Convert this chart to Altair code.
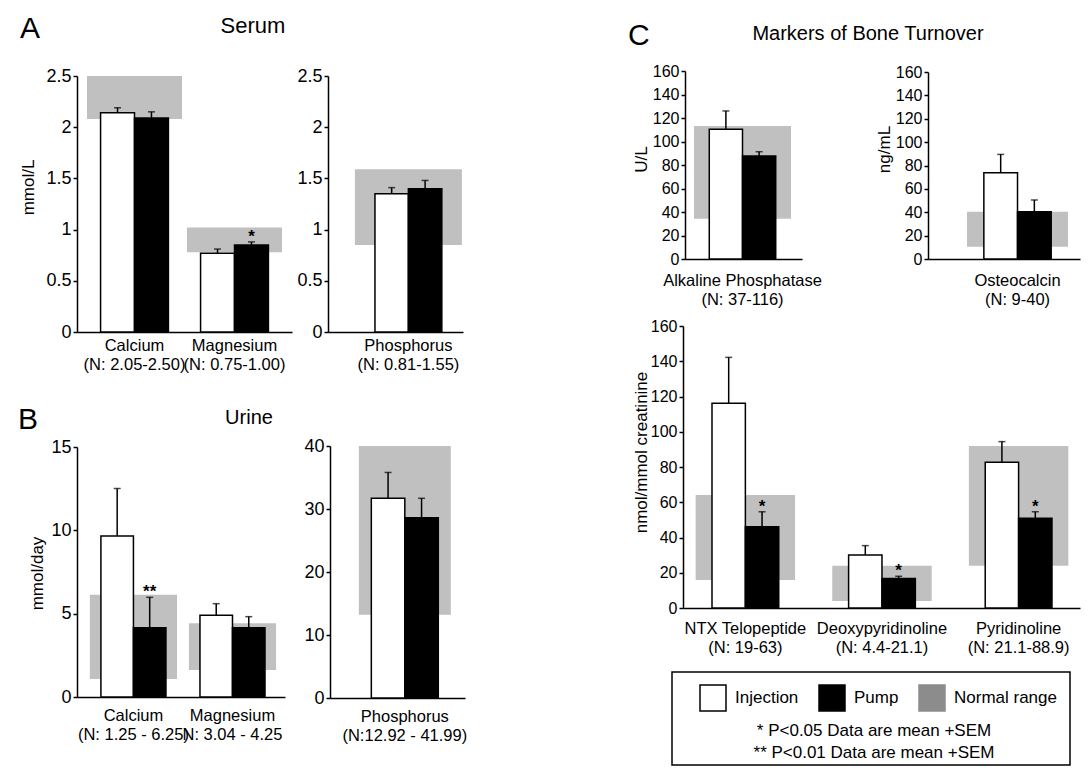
import altair as alt
import pandas as pd

FONT = "Liberation Sans"
W, H = 1073, 758
GROUPS = ["Injection", "Pump", "Normal range"]
FILLS = ["white", "black", "#8c8c8c"]
STROKES = ["black", "black", "#8c8c8c"]
BOX_GREY = "#c0c0c0"

# ---- Serum ----
SERUM_CATS = ["Calcium", "Magnesium", "Phosphorus"]
SERUM_RANGES = ["(N: 2.05-2.50)", "(N: 0.75-1.00)", "(N: 0.81-1.55)"]
SERUM_INJ = [2.14, 0.77, 1.35]
SERUM_INJ_SEM = [0.05, 0.04, 0.06]
SERUM_PUMP = [2.09, 0.85, 1.40]
SERUM_PUMP_SEM = [0.06, 0.03, 0.08]
SERUM_NORM_LO = [2.08, 0.78, 0.85]
SERUM_NORM_HI = [2.50, 1.02, 1.59]
SERUM_SIG = ["", "*", ""]

# ---- Urine ----
URINE_CATS = ["Calcium", "Magnesium", "Phosphorus"]
URINE_RANGES = ["(N: 1.25 - 6.25)", "N: 3.04 - 4.25", "(N:12.92 - 41.99)"]
URINE_INJ = [9.66, 4.90, 31.7]
URINE_INJ_SEM = [2.85, 0.70, 4.1]
URINE_PUMP = [4.16, 4.16, 28.6]
URINE_PUMP_SEM = [1.82, 0.66, 3.1]
URINE_NORM_LO = [1.08, 1.62, 13.2]
URINE_NORM_HI = [6.14, 4.42, 41.99]
URINE_SIG = ["**", "", ""]

# ---- Bone turnover markers ----
BONE_CATS = ["Alkaline Phosphatase", "Osteocalcin", "NTX Telopeptide",
             "Deoxypyridinoline", "Pyridinoline"]
BONE_RANGES = ["(N: 37-116)", "(N: 9-40)", "(N: 19-63)", "(N: 4.4-21.1)",
               "(N: 21.1-88.9)"]
BONE_INJ = [110.4, 73.8, 116.1, 30.1, 82.7]
BONE_INJ_SEM = [15.6, 15.7, 26.1, 5.3, 11.7]
BONE_PUMP = [87.7, 40.5, 46.1, 16.8, 50.9]
BONE_PUMP_SEM = [3.6, 10.0, 8.5, 1.2, 3.7]
BONE_NORM_LO = [34.3, 10.5, 15.9, 4.0, 24.0]
BONE_NORM_HI = [113.2, 40.5, 64.1, 24.0, 91.9]
BONE_SIG = ["", "", "*", "*", "*"]

NOTES = ["* P<0.05 Data are mean +SEM", "** P<0.01 Data are mean +SEM"]

SERUM = dict(cats=SERUM_CATS, ranges=SERUM_RANGES, inj=SERUM_INJ, inj_sem=SERUM_INJ_SEM,
             pump=SERUM_PUMP, pump_sem=SERUM_PUMP_SEM, lo=SERUM_NORM_LO,
             hi=SERUM_NORM_HI, sig=SERUM_SIG)
URINE = dict(cats=URINE_CATS, ranges=URINE_RANGES, inj=URINE_INJ, inj_sem=URINE_INJ_SEM,
             pump=URINE_PUMP, pump_sem=URINE_PUMP_SEM, lo=URINE_NORM_LO,
             hi=URINE_NORM_HI, sig=URINE_SIG)
BONE = dict(cats=BONE_CATS, ranges=BONE_RANGES, inj=BONE_INJ, inj_sem=BONE_INJ_SEM,
            pump=BONE_PUMP, pump_sem=BONE_PUMP_SEM, lo=BONE_NORM_LO,
            hi=BONE_NORM_HI, sig=BONE_SIG)

LEG = alt.Legend(title=None, orient="none", legendX=691, legendY=676,
                 direction="horizontal", symbolType="square", symbolSize=676,
                 symbolStrokeWidth=1.5, labelFontSize=17, labelFont=FONT,
                 labelColor="black", labelOffset=8, columnPadding=17, padding=0,
                 symbolOpacity=1)


def panel(sec, idxs, xr, yr, ymax, yvals, pi, po, align, opo, label_pad,
          tick_fs, ytitle=None, tx=None, ty=None):
    """xr=(left, right), yr=(bottom, top) in pixels of the shared canvas."""
    keys = [sec["cats"][i] + "|" + sec["ranges"][i] for i in idxs]
    rows = []
    for i, k in zip(idxs, keys):
        rows.append(dict(cat=k, group="Injection", value=sec["inj"][i],
                         sem=sec["inj_sem"][i], sig=""))
        rows.append(dict(cat=k, group="Pump", value=sec["pump"][i],
                         sem=sec["pump_sem"][i], sig=sec["sig"][i]))
    bars_df = pd.DataFrame(rows)
    box_df = pd.DataFrame(dict(cat=keys, lo=[sec["lo"][i] for i in idxs],
                               hi=[sec["hi"][i] for i in idxs]))

    xs = alt.Scale(domain=keys, range=list(xr), paddingInner=pi, paddingOuter=po,
                   align=align)
    xa = alt.Axis(title=None, ticks=False, labelAngle=0, labelFontSize=16.5,
                  labelExpr="split(datum.label, '|')", labelPadding=label_pad,
                  labelLineHeight=19, labelOverlap=False, labelLimit=0,
                  orient="bottom", offset=yr[0] - H, grid=False)
    x = alt.X("cat:N", scale=xs, axis=xa)
    xo = alt.XOffset("group:N", scale=alt.Scale(domain=["Injection", "Pump"],
                                                 paddingOuter=opo, paddingInner=0))
    ys = alt.Scale(domain=[0, ymax], range=list(yr), nice=False, clamp=True)
    ax_kw = dict(values=yvals, format="~f", tickSize=4, labelPadding=2,
                 labelFontSize=tick_fs, grid=False, orient="left", offset=-xr[0])
    if ytitle:
        ax_kw.update(title=ytitle, titleX=tx, titleY=ty, titleFontSize=17,
                     titleBaseline="alphabetic", titleAngle=-90, titleAlign="center",
                     titleFontWeight="normal")
    else:
        ax_kw.update(title=None)
    ya = alt.Axis(**ax_kw)

    box = alt.Chart(box_df).mark_bar(color=BOX_GREY).encode(
        x=x, y=alt.Y("lo:Q", scale=ys, axis=ya), y2="hi:Q")
    base = alt.Chart(bars_df).transform_calculate(top="datum.value + datum.sem")
    bars = base.mark_bar(strokeWidth=1.5).encode(
        x=x, xOffset=xo, y=alt.Y("value:Q", scale=ys, axis=ya),
        fill=alt.Fill("group:N", scale=alt.Scale(domain=GROUPS, range=FILLS), legend=LEG),
        stroke=alt.Stroke("group:N", scale=alt.Scale(domain=GROUPS, range=STROKES),
                          legend=LEG))
    err = base.mark_rule(color="black", strokeWidth=1.5).encode(
        x=x, xOffset=xo, y=alt.Y("value:Q", scale=ys, axis=ya), y2="top:Q")
    cap = base.mark_tick(color="black", thickness=1.5, size=7).encode(
        x=x, xOffset=xo, y=alt.Y("top:Q", scale=ys, axis=ya))
    stars = base.transform_filter("datum.sig != ''").mark_text(
        fontSize=17, fontWeight="bold", baseline="alphabetic", dy=0, color="black").encode(
        x=x, xOffset=xo, y=alt.Y("top:Q", scale=ys, axis=ya), text="sig:N")
    return alt.layer(box, bars, err, cap, stars)


def label(t, px, py, fs, al="center"):
    return alt.Chart(pd.DataFrame({"t": [t]})).mark_text(
        fontSize=fs, align=al, baseline="alphabetic", color="black").encode(
        x=alt.value(px), y=alt.value(py), text="t:N")


A_TICKS = [0, 0.5, 1, 1.5, 2, 2.5]
C_TICKS = [0, 20, 40, 60, 80, 100, 120, 140, 160]

A1 = panel(SERUM, [0, 1], (69, 284), (324, 68), 2.5, A_TICKS, 0.05, 0.1, 0.5, 0.4, 5, 18,
           "mmol/L", -44, 179)
A2 = panel(SERUM, [2], (320, 455), (324, 68), 2.5, A_TICKS, 0, 0.131, 0.96, 0.6, 5, 18)
B1 = panel(URINE, [0, 1], (69, 277), (689, 439), 15, [0, 5, 10, 15], 0.12, 0.11, 0.59, 0.34,
           10, 18, "mmol/day", -35, 565)
B2 = panel(URINE, [2], (322, 457), (690, 438), 40, [0, 10, 20, 30, 40], 0, 0.234, 0.67,
           0.373, 10, 18)
ALP = panel(BONE, [0], (677, 794), (251, 63), 160, C_TICKS, 0, 0.103, 0.45, 0.46, 13, 16,
            "U/L", -39, 151)
OC = panel(BONE, [1], (920, 1072), (251, 64), 160, C_TICKS, 0, 0.2525, 0.765, 0.5, 13, 16,
           "ng/mL", -39, 141)
CB = panel(BONE, [2, 3, 4], (675, 1072), (600, 318), 160, C_TICKS, 0.272, 0.089, 0.52, 0.49,
           12, 16, "nmol/mmol creatinine", -37, 444)

notes = alt.Chart(pd.DataFrame({"note": NOTES})).mark_text(
    fontSize=17, align="center", baseline="middle", color="black").encode(
    x=alt.value(866),
    y=alt.Y("note:N", scale=alt.Scale(type="point", domain=NOTES, range=[723, 745],
                                      padding=0), axis=None),
    text="note:N")
frame = alt.Chart(pd.DataFrame({"f": [0]})).mark_rect(
    fill="white", fillOpacity=0, stroke="black", strokeWidth=1.5).encode(
    x=alt.value(664), x2=alt.value(1062), y=alt.value(664), y2=alt.value(757))

texts = alt.layer(
    label("A", 12, 30, 30, "left"), label("Serum", 245, 25, 22),
    label("B", 10, 421, 30, "left"), label("Urine", 241, 416, 20),
    label("C", 620, 37, 30, "left"), label("Markers of Bone Turnover", 860, 32, 20),
)

chart = alt.layer(A1, A2, B1, B2, ALP, OC, CB, frame, notes, texts).resolve_scale(
    x="independent", y="independent", xOffset="independent"
).properties(
    width=W, height=H, autosize=alt.AutoSizeParams(type="none"),
    padding={"left": 0, "top": 0, "right": 0, "bottom": 0}, background="white"
).configure(font=FONT).configure_view(stroke=None).configure_axis(
    domainColor="black", domainWidth=1.5, tickColor="black", tickWidth=1.5,
    labelColor="black", titleColor="black", labelFont=FONT, titleFont=FONT
).configure_text(font=FONT)

chart.save("out.html", embed_options={"renderer": "svg", "actions": False})
